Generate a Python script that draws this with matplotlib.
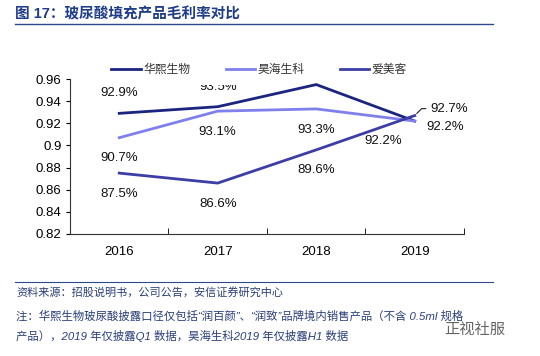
import matplotlib
matplotlib.use("Agg")
import matplotlib.pyplot as plt
from matplotlib.transforms import Bbox, TransformedBbox

plt.rcParams['font.family'] = ['Liberation Sans', 'Noto Sans CJK SC', 'DejaVu Sans']

years = ["2016", "2017", "2018", "2019"]
huaxi = [0.929, 0.935, 0.955, 0.922]
haohai = [0.907, 0.931, 0.933, 0.922]
aimeike = [0.875, 0.866, 0.896, 0.927]

huaxi_labels = ["92.9%", "93.5%", "95.5%", "92.2%"]
haohai_labels = ["90.7%", "93.1%", "93.3%", "92.2%"]
aimeike_labels = ["87.5%", "86.6%", "89.6%", "92.7%"]

c_huaxi = "#1b2580"
c_haohai = "#8080ec"
c_aimeike = "#3d3da6"
title_blue = "#1f3c88"

fig = plt.figure(figsize=(5.4, 3.56), dpi=100)
ax = fig.add_axes([0.1296, 0.3427, 0.7296, 0.4353])

x = list(range(len(years)))
l1, = ax.plot(x, huaxi, color=c_huaxi, lw=2.0, label="华熙生物")
l2, = ax.plot(x, haohai, color=c_haohai, lw=2.0, label="昊海生科")
l3, = ax.plot(x, aimeike, color=c_aimeike, lw=2.0, label="爱美客")

ax.set_xlim(-0.5, 3.5)
ax.set_ylim(0.82, 0.96)
ax.set_yticks([0.82, 0.84, 0.86, 0.88, 0.9, 0.92, 0.94, 0.96])
ax.set_yticklabels(["0.82", "0.84", "0.86", "0.88", "0.9", "0.92", "0.94", "0.96"])
ax.set_xticks(x)
ax.set_xticklabels(years)
ax.set_xticks([-0.5, 0.5, 1.5, 2.5, 3.5], minor=True)
ax.tick_params(axis='x', which='major', length=0, pad=9, labelsize=9.5)
ax.tick_params(axis='x', which='minor', length=4, direction='in')
ax.tick_params(axis='y', length=3, direction='out', labelsize=9.5, pad=3)
for s in ["top", "right"]:
    ax.spines[s].set_visible(False)
for s in ["left", "bottom"]:
    ax.spines[s].set_color("#333333")

fs = 9.5
# data labels, offsets in points; the 2018 label of 华熙 sits outside the plot in the source
huaxi_off = [(0, 14.5), (0, 14), None, (-23, -14)]
haohai_off = [(0, -14.5), (0, -15), (0, -15), (22, -4)]
aimeike_off = [(0, -15), (0, -15), (0, -14.5), None]

# labels near the top get cut off like in the source
clip = TransformedBbox(Bbox([[0, 0], [1, 0.761]]), fig.transFigure)

for vals, labs, offs in [(huaxi, huaxi_labels, huaxi_off),
                         (haohai, haohai_labels, haohai_off),
                         (aimeike, aimeike_labels, aimeike_off)]:
    for i, off in enumerate(offs):
        if off is None:
            continue
        t = ax.annotate(labs[i], (i, vals[i]), xytext=off, textcoords="offset points",
                        ha="center", va="center", fontsize=fs, color="#111111")
        t.set_clip_box(clip)
        t.set_clip_on(True)

ax.annotate(aimeike_labels[3], (3, aimeike[3]), xytext=(11, 5), textcoords="offset points",
            ha="left", va="center", fontsize=fs, color="#111111",
            arrowprops=dict(arrowstyle="-", color="#222222", lw=0.8,
                            connectionstyle="angle,angleA=0,angleB=45,rad=0",
                            shrinkA=1, shrinkB=2))

leg = ax.legend(handles=[l1, l2, l3], loc="center", bbox_to_anchor=(0.48, 1.06),
                ncol=3, frameon=False, fontsize=8.5, handlelength=2.5, handletextpad=0.2,
                columnspacing=3.0, labelcolor="#333333", borderpad=0.3)

# title and rules
fig.text(0.028, 0.96, "图 17：玻尿酸填充产品毛利率对比", fontsize=10.5, fontweight="bold",
         color=title_blue, ha="left", va="center")
fig.add_artist(plt.Line2D([0.028, 0.913], [0.932, 0.932], color="#2c4a8a", lw=1.0))
fig.add_artist(plt.Line2D([0.028, 0.913], [0.208, 0.208], color="#2c4a8a", lw=0.8))

src_color = "#2a3f7a"
fig.text(0.03, 0.178, "资料来源：招股说明书，公司公告，安信证券研究中心", fontsize=8,
         style="italic", color=src_color, ha="left", va="center")
fig.text(0.03, 0.112, "注：华熙生物玻尿酸披露口径仅包括“润百颜”、“润致”品牌境内销售产品（不含 0.5ml 规格",
         fontsize=8.2, style="italic", color=src_color, ha="left", va="center")
fig.text(0.03, 0.056, "产品），2019 年仅披露Q1 数据，昊海生科2019 年仅披露H1 数据", fontsize=8.2,
         style="italic", color=src_color, ha="left", va="center")
fig.text(0.935, 0.072, "正视社服", fontsize=11, color="#666666", ha="right", va="center")

fig.savefig("out.png", dpi=100)
